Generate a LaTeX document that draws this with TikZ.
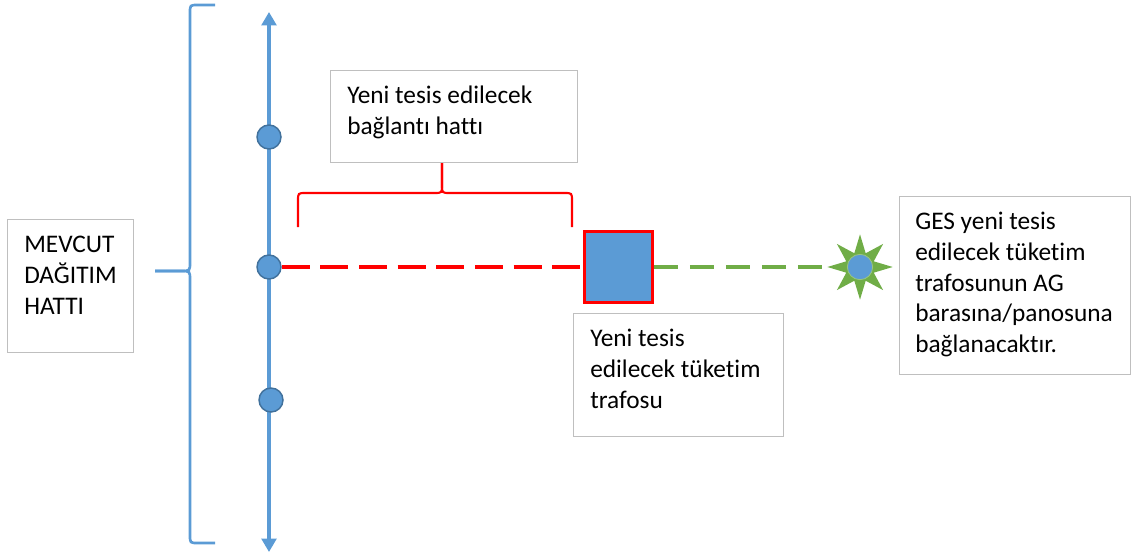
\documentclass[tikz,border=0pt]{standalone}
\usepackage{fontspec}
\setmainfont{Carlito}[Ligatures=NoCommon]
\usetikzlibrary{arrows.meta,shapes.geometric}
\definecolor{busblue}{HTML}{5B9BD5}
\definecolor{rimblue}{HTML}{41719C}
\definecolor{linered}{HTML}{FF0000}
\definecolor{linegreen}{HTML}{70AD47}
\definecolor{boxgray}{HTML}{BFBFBF}
\tikzset{
	box/.style={draw=boxgray, line width=0.8pt, anchor=north west, inner sep=0pt},
	txt/.style={anchor=north west, align=left, inner sep=0pt, font=\fontsize{19}{23}\selectfont},
	junction/.style={circle, fill=busblue, draw=rimblue, line width=1.1pt, minimum size=18pt, inner sep=0pt},
	bus/.style={draw=busblue, line width=2.4pt},
}

\begin{document}
\begin{tikzpicture}[x=0.75pt, y=-0.75pt]
		\useasboundingbox (0, 0) rectangle (1131, 560);
		\coordinate (bustop) at (269, 12);
		\coordinate (busbot) at (269, 552);
		\draw [bus, {Triangle[width=11pt,length=10pt]}-{Triangle[width=11pt,length=10pt]}] (busbot) -- (bustop);
		% existing line braces
		\draw [busblue, line width=2pt] (215, 5) -- (198, 5) .. controls (190, 5) .. (190, 13) -- (190, 262) .. controls (190, 271) .. (181, 271) -- (155, 271);
		\draw [busblue, line width=2pt] (155, 271) -- (181, 271) .. controls (190, 271) .. (190, 280) -- (190, 535) .. controls (190, 543) .. (198, 543) -- (215, 543);
		\node [junction] (j1) at (269, 137) {};
		\node [junction] (j2) at (269, 267) {};
		\node [junction] (j3) at (271, 400) {};
		\node [draw=linered, fill=busblue, line width=2pt, minimum width=51pt, minimum height=53.5pt, inner sep=0pt] (trafo) at (618.5, 267) {};
		\node [star, star points=8, star point ratio=2.2, fill=linegreen, minimum size=49pt, inner sep=0pt] (ges) at (860, 267) {};
		\node [circle, fill=busblue, draw=linegreen!70!white, line width=0.6pt, minimum size=19pt, inner sep=0pt] (gesdot) at (ges) {};
		\draw [linered, line width=3pt, dash pattern=on 21pt off 8pt] (j2) -- (trafo);
		\draw [linegreen, line width=3pt, dash pattern=on 18pt off 9pt] (trafo) -- (ges);
		% new line brace
		\draw [linered, line width=1.6pt] (298, 227) -- (298, 201) .. controls (298, 193) .. (306, 193) -- (434, 193) .. controls (442, 193) .. (442, 185) -- (442, 163);
		\draw [linered, line width=1.6pt] (442, 163) -- (442, 185) .. controls (442, 193) .. (450, 193) -- (564, 193) .. controls (572, 193) .. (572, 201) -- (572, 227);
		% text boxes
		\node [box, minimum width=94.5pt, minimum height=99.75pt] (mevcut) at (7, 219) {};
		\node [txt] (t-mevcut) at (24, 231) {\strut MEVCUT\\DAĞITIM\\HATTI};
		\node [box, minimum width=185.25pt, minimum height=69pt] (hat) at (330, 70) {};
		\node [txt] (t-hat) at (347, 82) {\strut Yeni tesis edilecek\\bağlantı hattı};
		\node [box, minimum width=157.5pt, minimum height=92.25pt] (trafobox) at (573, 313) {};
		\node [txt] (t-trafo) at (590, 325) {\strut Yeni tesis\\edilecek tüketim\\trafosu};
		\node [box, minimum width=173.25pt, minimum height=133.5pt] (gesbox) at (899, 196) {};
		\node [txt] (t-ges) at (915, 208) {\strut GES yeni tesis\\edilecek tüketim\\trafosunun AG\\barasına/panosuna\\bağlanacaktır.};
	\end{tikzpicture}
\end{document}
